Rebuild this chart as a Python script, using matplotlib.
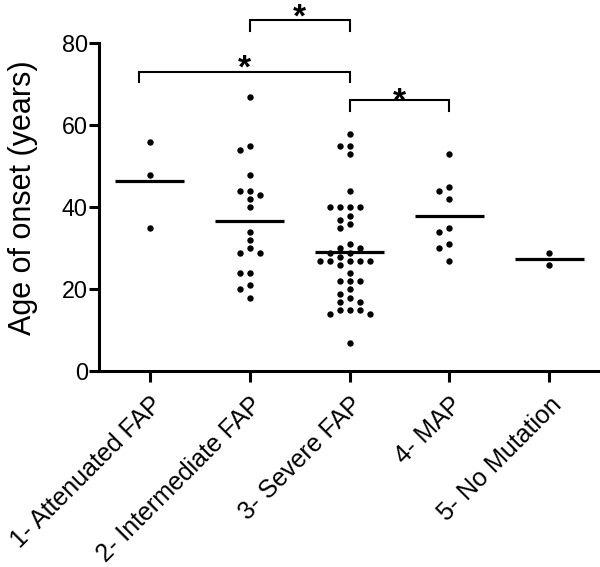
import numpy as np
import matplotlib
matplotlib.use('Agg')
import matplotlib.pyplot as plt

plt.rcParams['font.family'] = ['Liberation Sans', 'DejaVu Sans']

# ---- data ----
categories = ['1- Attenuated FAP', '2- Intermediate FAP', '3- Severe FAP',
              '4- MAP', '5- No Mutation']
g1_attenuated = [56, 48, 35]
g2_intermediate = [67, 55, 54, 48, 44, 44, 43, 42, 40, 34, 32, 30, 29, 29,
                   24, 24, 21, 20, 18]
g3_severe = [58, 55, 55, 53, 44, 40, 40, 40, 40, 38, 37, 36, 35, 31, 30, 30,
             29, 29, 28, 27, 27, 27, 27, 27, 26, 24, 22, 22, 22, 20, 19, 18,
             17, 17, 15, 15, 15, 14, 14, 7]
g4_map = [53, 45, 44, 42, 35, 34, 31, 30, 27]
g5_nomut = [29, 26]
groups = [g1_attenuated, g2_intermediate, g3_severe, g4_map, g5_nomut]
yticks = [0, 20, 40, 60, 80]
comparisons = [(2, 3), (1, 3), (3, 4)]
comparison_labels = ['*', '*', '*']

# ---- figure ----
fig = plt.figure(figsize=(6.0, 5.67), dpi=100)
ax = fig.add_axes([0.165, 0.3448, 0.832, 0.5788])
ax.set_xlim(0.49, 5.49)
ax.set_ylim(0, 80)

# pixel scale for swarm layout
x_px_per_unit = 0.832 * 600 / 5.0
y_px_per_unit = 0.5788 * 567 / 80.0


def swarm_offsets(vals, min_dist=7.0, step=0.05):
    order = np.argsort(vals)[::-1]
    placed = []
    offs = np.zeros(len(vals))
    cands = [0.0]
    for k in range(1, 12):
        cands += [-k * step, k * step]
    for i in order:
        for c in cands:
            ok = True
            for (px, py) in placed:
                dx = (c - px) * x_px_per_unit
                dy = (vals[i] - py) * y_px_per_unit
                if dx * dx + dy * dy < min_dist ** 2:
                    ok = False
                    break
            if ok:
                offs[i] = c
                placed.append((c, vals[i]))
                break
    return offs


for gi, vals in enumerate(groups):
    xc = gi + 1
    vals = np.array(vals, dtype=float)
    offs = swarm_offsets(vals)
    ax.plot(xc + offs, vals, 'o', color='black', markersize=4.6,
            markeredgewidth=0, clip_on=False, zorder=3)
    m = vals.mean()
    ax.plot([xc - 0.345, xc + 0.345], [m, m], color='black', lw=2.3,
            solid_capstyle='butt', zorder=2)

# significance brackets (left end, right end, top y, leg bottom y, star y)
bracket_layout = [(2.0, 3.0, 85.6, 83.0, 89.0),
                  (0.89, 3.0, 73.1, 70.6, 76.6),
                  (3.0, 4.0, 66.2, 63.5, 68.4)]
star_fs = 24
for (a, b), lab, (x0, x1, yt, yb, ys) in zip(comparisons, comparison_labels, bracket_layout):
    ax.plot([x0, x0, x1, x1], [yb, yt, yt, yb], color='black', lw=1.5,
            clip_on=False, solid_joinstyle='miter')
    ax.annotate(lab, xy=((x0 + x1) / 2, ys), xytext=(0, -0.6 * star_fs),
                textcoords='offset points', ha='center', va='baseline',
                fontsize=star_fs, fontweight='bold', annotation_clip=False)

# axes styling
for s in ['top', 'right']:
    ax.spines[s].set_visible(False)
for s in ['left', 'bottom']:
    ax.spines[s].set_linewidth(2.2)
ax.set_yticks(yticks)
ax.set_yticklabels([str(v) for v in yticks], fontsize=16.8)
ax.set_xticks(range(1, 6))
ax.set_xticklabels(categories, rotation=45, ha='right',
                   rotation_mode='anchor', fontsize=18)
ax.tick_params(axis='both', width=2.2, color='black')
ax.tick_params(axis='y', length=7, pad=1)
ax.tick_params(axis='x', length=8, pad=7)
ax.set_ylabel('Age of onset (years)', fontsize=22, va='center')
ax.yaxis.set_label_coords(-0.152, 0.53)

fig.savefig('out.png', dpi=100)
